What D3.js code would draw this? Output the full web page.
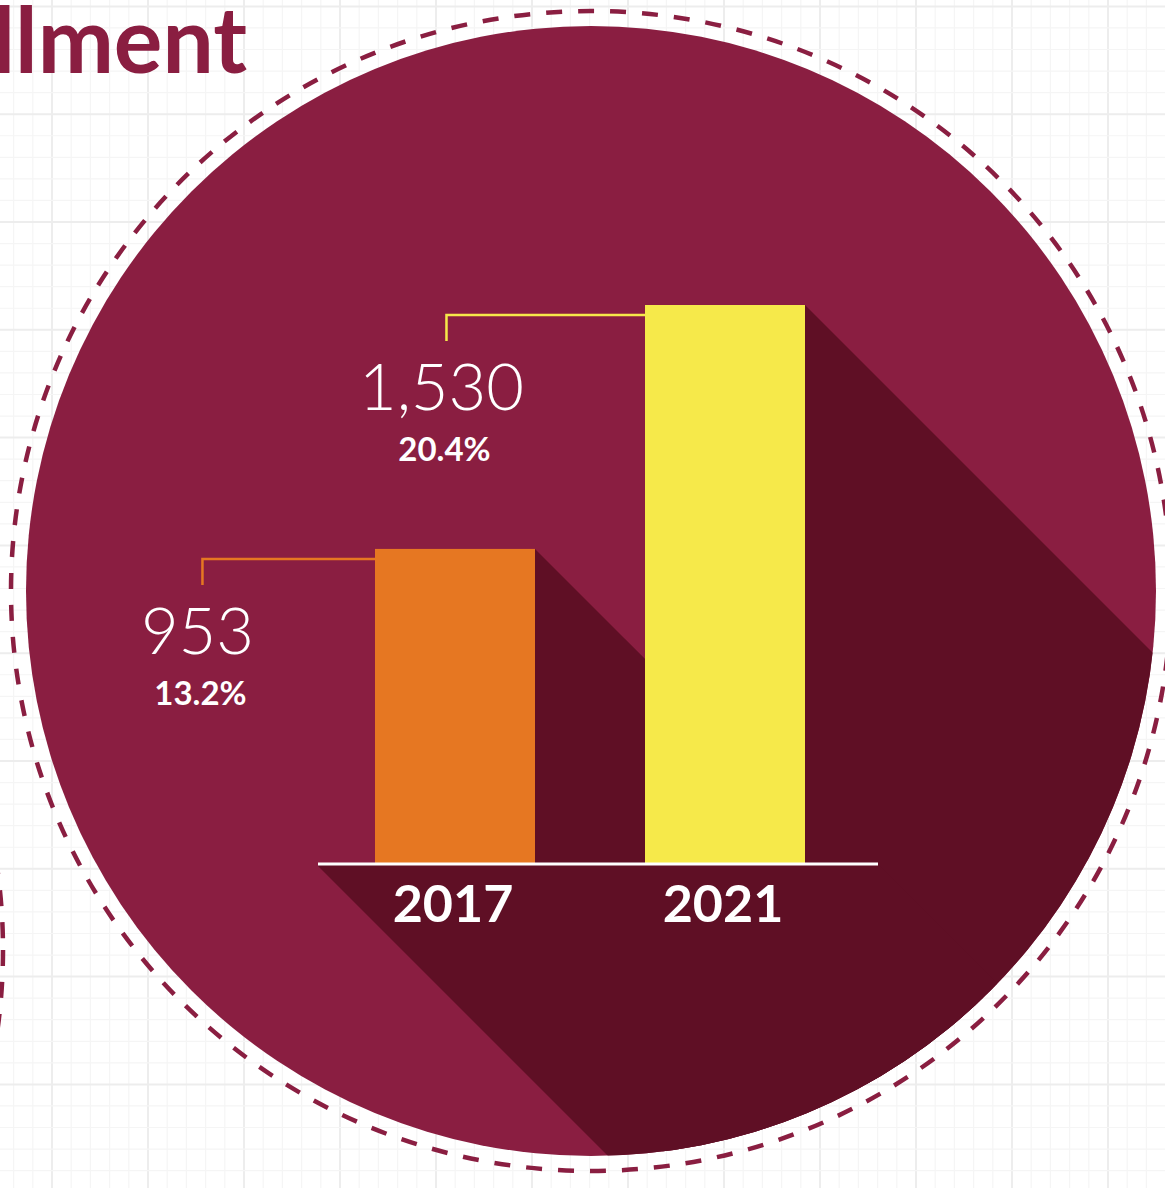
<!DOCTYPE html>
<html>
<head>
<meta charset="utf-8">
<script src="https://cdn.jsdelivr.net/npm/d3@7"></script>
<style>
  html, body { margin: 0; padding: 0; background: #fff; overflow: hidden; }
  svg { display: block; }
</style>
</head>
<body>
<div id="chart"></div>
<script>
// data
const years = ["2017", "2021"];
const enrollment = [953, 1530];
const shares = [13.2, 20.4];

// size
const width = 1165; const height = 1188;
const maroon = "#8a1e41";
const shadowColor = "#5f0f25";
const barColor = d3.scaleOrdinal().domain(years).range(["#e67722", "#f6e94a"]);

// circle
const cx = 591, cy = 591, r = 565, ringR = 580;

const svg = d3.select("#chart").append("svg")
    .attr("width", width)
    .attr("height", height);

// background grid
const grid = svg.append("g");
const gx = 19.2, gy = 21.56;
d3.range(0, 61).forEach(function(k){
    let x = 13.6 + k * gx;
    grid.append("line")
        .attr("x1", x).attr("x2", x).attr("y1", 0).attr("y2", height)
        .attr("stroke", k % 5 == 2 ? "#ededed" : "#f5f5f5")
        .attr("stroke-width", k % 5 == 2 ? 2 : 1.2);
});
d3.range(0, 56).forEach(function(k){
    let y = 6.4 + k * gy;
    grid.append("line")
        .attr("x1", 0).attr("x2", width).attr("y1", y).attr("y2", y)
        .attr("stroke", k % 5 == 0 ? "#ededed" : "#f5f5f5")
        .attr("stroke-width", k % 5 == 0 ? 2 : 1.2);
});

// title (cut off at the left edge, as in the source page)
svg.append("text")
    .attr("x", 247).attr("y", 73)
    .attr("text-anchor", "end")
    .attr("font-family", "Lato, sans-serif")
    .attr("font-weight", 700)
    .attr("font-size", 91)
    .attr("fill", maroon)
    .text("Enrollment");

// dashed rings
const ring = function(x0, y0){
    svg.append("circle")
        .attr("cx", x0).attr("cy", y0).attr("r", ringR)
        .attr("fill", "none")
        .attr("stroke", maroon)
        .attr("stroke-width", 4.5)
        .attr("stroke-dasharray", "16 16");
};
ring(cx, cy);
// neighbouring ring on the left
ring(-577, 950);

// main disc
svg.append("circle")
    .attr("cx", cx).attr("cy", cy).attr("r", r)
    .attr("fill", maroon);

svg.append("defs").append("clipPath")
    .attr("id", "disc")
    .append("circle")
    .attr("cx", cx).attr("cy", cy).attr("r", r);

// scales
const x = d3.scaleBand()
    .domain(years)
    .range([375, 805])
    .paddingInner(0.4074)
    .paddingOuter(0);
const baseY = 864;
const y = d3.scaleLinear()
    .domain([210, 1530])
    .range([baseY - 1, 305]);

const axisX0 = x(years[0]) - 57;
const axisX1 = x(years[years.length - 1]) + x.bandwidth() + 73;

// long shadows, extruded at 45 degrees and clipped to the disc
const L = 1400;
function extrude(x0, y0, x1, y1){
    return [[x0, y0], [x1, y0], [x1 + L, y0 + L], [x1 + L, y1 + L], [x0 + L, y1 + L], [x0, y1]];
}
const shadows = years.map(function(d, i){
    return extrude(x(d), y(enrollment[i]), x(d) + x.bandwidth(), baseY);
});
shadows.push(extrude(axisX0, baseY, axisX1, baseY + 2));

svg.append("g")
    .attr("clip-path", "url(#disc)")
    .selectAll("polygon")
    .data(shadows)
    .enter().append("polygon")
        .attr("points", function(d){ return d.map(p => p.join(",")).join(" "); })
        .attr("fill", shadowColor);

// bars
svg.selectAll("rect.bar")
    .data(years)
    .enter().append("rect")
        .attr("class", "bar")
        .attr("x", d => x(d))
        .attr("y", (d, i) => y(enrollment[i]))
        .attr("width", x.bandwidth())
        .attr("height", (d, i) => baseY - y(enrollment[i]))
        .attr("fill", d => barColor(d));

// baseline
svg.append("line")
    .attr("x1", axisX0).attr("x2", axisX1)
    .attr("y1", baseY).attr("y2", baseY)
    .attr("stroke", "#fff")
    .attr("stroke-width", 3);

// year labels
svg.selectAll("text.year")
    .data(years)
    .enter().append("text")
        .attr("class", "year")
        .attr("x", d => x(d) + x.bandwidth() / 2 - 2)
        .attr("y", 922)
        .attr("text-anchor", "middle")
        .attr("font-family", "Lato, sans-serif")
        .attr("font-weight", 700)
        .attr("font-size", 52)
        .attr("fill", "#fff")
        .text(d => d);

// value labels (right aligned a fixed gap left of the bar), then leader lines
const fmt = d3.format(",");
const labels = svg.append("g");
years.forEach(function(d, i){
    let top = y(enrollment[i]) + 10;
    let val = labels.append("text")
        .attr("x", x(d) - 121)
        .attr("y", top + 95)
        .attr("text-anchor", "end")
        .attr("font-family", "Lato, sans-serif")
        .attr("font-weight", 300)
        .attr("font-size", 65)
        .attr("fill", "#fff")
        .text(fmt(enrollment[i]));
    let bb = val.node().getBBox();
    let mid = bb.x + bb.width / 2;
    labels.append("text")
        .attr("x", mid + 3)
        .attr("y", top + 146)
        .attr("text-anchor", "middle")
        .attr("font-family", "Lato, sans-serif")
        .attr("font-weight", 700)
        .attr("font-size", 33)
        .attr("fill", "#fff")
        .text(shares[i].toFixed(1) + "%");
    let lx = mid + 5;
    labels.append("path")
        .attr("d", `M${x(d)},${top}H${lx}V${top + 26}`)
        .attr("fill", "none")
        .attr("stroke", barColor(d))
        .attr("stroke-width", 2.5);
});
</script>
</body>
</html>
